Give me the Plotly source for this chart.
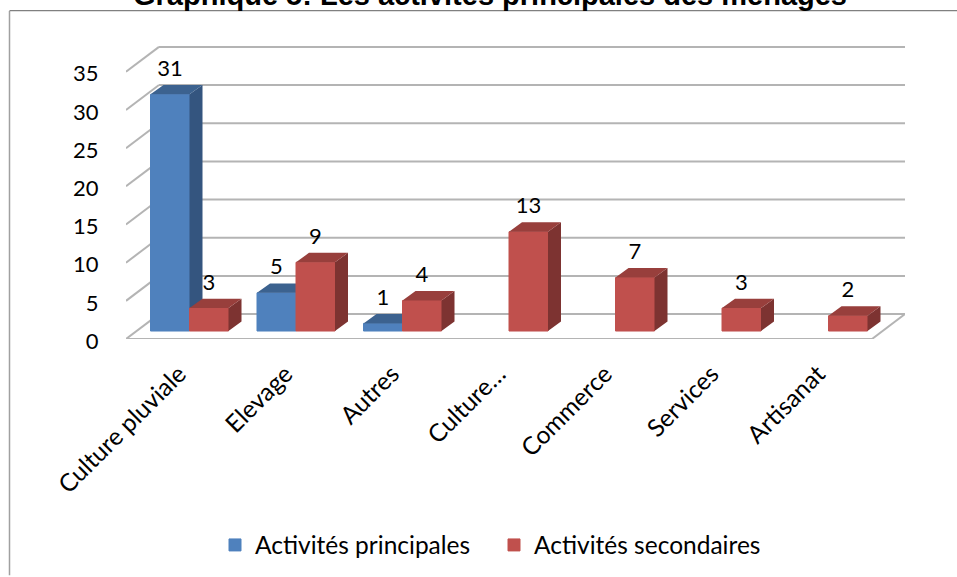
#!/usr/bin/env python3
"""
Graphique 5: Les activites principales des menages (fake 3D column chart)
"""

import plotly.graph_objects as go

categories = ["Culture pluviale", "Elevage", "Autres", "Culture…", "Commerce", "Services", "Artisanat"]
principales = [31, 5, 1, None, None, None, None]
secondaires = [3, 9, 4, 13, 7, 3, 2]
y_ticks = [0, 5, 10, 15, 20, 25, 30, 35]

BLUE, BLUE_SIDE, BLUE_TOP = "#4F81BD", "#34557F", "#3C628F"
RED, RED_SIDE, RED_TOP = "#C0504D", "#7D3331", "#983F3C"
GRID = "#B4B4B4"

# layout in pixels, everything else is converted to axis units from these
LEFT, RIGHT, TOP, BOTTOM = 126, 905, 40, 340
PX_X = 106.5   # pixels per category
PX_Y = 7.66    # pixels per value unit
x_range = [(LEFT - 189.5) / PX_X, (RIGHT - 189.5) / PX_X]
y_range = [0, (BOTTOM - TOP) / PX_Y]

wall_dx, wall_dy = 33 / PX_X, 25 / PX_Y    # depth of the floor
bar_dx, bar_dy = 13 / PX_X, 9.5 / PX_Y     # depth of a bar
bar_w = 39 / PX_X
bar_base = 8 / PX_Y
label_gap = 3.5 / PX_Y
tick_shift = 10.5 / PX_X   # category labels hang from the front of the floor


def faces(values, offset):
    """Side and top polygons of one series, separated by None"""
    sx, sy, tx, ty = [], [], [], []
    for i, v in enumerate(values):
        if v is None:
            continue
        x0 = i + offset
        x1 = x0 + bar_w
        y0 = bar_base
        y1 = bar_base + v
        sx += [x1, x1 + bar_dx, x1 + bar_dx, x1, x1, None]
        sy += [y0, y0 + bar_dy, y1 + bar_dy, y1, y0, None]
        tx += [x0, x0 + bar_dx, x1 + bar_dx, x1, x0, None]
        ty += [y1, y1 + bar_dy, y1 + bar_dy, y1, y1, None]
    return sx, sy, tx, ty


def add_series(fig, name, values, offset, color, side, top, xa, ya):
    xs = [i + offset + bar_w / 2 for i in range(len(values))]
    fig.add_trace(go.Bar(x=xs, y=values, base=bar_base, width=bar_w, name=name,
                         marker=dict(color=color, line=dict(width=1, color=color)), xaxis=xa, yaxis=ya))
    sx, sy, tx, ty = faces(values, offset)
    for px_, py_, c in [(sx, sy, side), (tx, ty, top)]:
        fig.add_trace(go.Scatter(x=px_, y=py_, mode="lines", fill="toself", fillcolor=c,
                                 line=dict(width=0), showlegend=False, hoverinfo="skip",
                                 xaxis=xa, yaxis=ya))
    # value labels sit above the back edge of the top face
    ly = [None if v is None else bar_base + v + bar_dy + label_gap for v in values]
    fig.add_trace(go.Scatter(x=xs, y=ly, mode="text", text=[("" if v is None else str(v)) for v in values],
                             textposition="top center", textfont=dict(size=22, color="black"),
                             showlegend=False, hoverinfo="skip", xaxis=xa, yaxis=ya))


fig = go.Figure()
add_series(fig, "Activités principales", principales, -bar_w, BLUE, BLUE_SIDE, BLUE_TOP, "x", "y")
add_series(fig, "Activités secondaires", secondaires, 0, RED, RED_SIDE, RED_TOP, "x2", "y2")

# walls: back lines and the diagonal stubs, under the bars
x_front_l = x_range[0]
x_back_l = x_range[0] + wall_dx
x_back_r = x_range[1]
x_front_r = x_range[1] - wall_dx
shapes = []
for t in y_ticks:
    shapes.append(dict(type="line", x0=x_back_l, x1=x_back_r, y0=t + wall_dy, y1=t + wall_dy))
    shapes.append(dict(type="line", x0=x_front_l, x1=x_back_l, y0=t, y1=t + wall_dy))
shapes.append(dict(type="line", x0=x_front_l, x1=x_front_r, y0=0, y1=0))
shapes.append(dict(type="line", x0=x_front_r, x1=x_back_r, y0=0, y1=wall_dy))
for s in shapes:
    s.update(xref="x", yref="y", layer="below", line=dict(color=GRID, width=2))

# outer frame of the pasted chart, only top and left are visible
W, H = RIGHT - LEFT, BOTTOM - TOP
fx = lambda p: (p - LEFT) / W
fy = lambda p: (BOTTOM - p) / H
shapes.append(dict(type="line", xref="paper", yref="paper", x0=fx(9.5), x1=fx(9.5), y0=fy(11), y1=fy(577),
                   line=dict(color="#A0A0A0", width=1.5)))
shapes.append(dict(type="line", xref="paper", yref="paper", x0=fx(9.5), x1=fx(957), y0=fy(10.5), y1=fy(10.5),
                   line=dict(color="#808080", width=1.2)))

fig.update_layout(
    width=957, height=577,
    margin=dict(l=LEFT, r=957 - RIGHT, t=TOP, b=577 - BOTTOM, pad=0),
    paper_bgcolor="white", plot_bgcolor="white",
    barmode="overlay",
    font=dict(family="Lato", size=22, color="black"),
    shapes=shapes,
    xaxis=dict(range=x_range, tickmode="array", tickvals=[i - tick_shift for i in range(len(categories))],
               ticktext=categories, tickangle=-45, showgrid=False, zeroline=False, showline=False,
               ticks="outside", ticklen=10, tickcolor="white", tickfont=dict(size=24.5)),
    yaxis=dict(range=y_range, tickmode="array", tickvals=y_ticks, showgrid=False, zeroline=False,
               showline=False, ticks="outside", ticklen=22, tickcolor="white", tickfont=dict(size=22),
               ticklabelshift=2),
    xaxis2=dict(range=x_range, overlaying="x", visible=False),
    yaxis2=dict(range=y_range, overlaying="y", visible=False),
    legend=dict(orientation="h", x=fx(215), y=fy(545), xanchor="left", yanchor="middle",
                font=dict(size=24.5), entrywidth=234, entrywidthmode="pixels", bgcolor="rgba(0,0,0,0)"),
    annotations=[dict(text="<b>Graphique 5: Les activités principales des ménages</b>",
                      xref="paper", yref="paper", x=fx(490), y=fy(-5), xanchor="center", yanchor="middle",
                      showarrow=False, font=dict(family="Liberation Sans", size=29, color="black"))],
)

fig.write_html("out.html", config=dict(displayModeBar=False), post_script="document.body.style.margin='0';")
